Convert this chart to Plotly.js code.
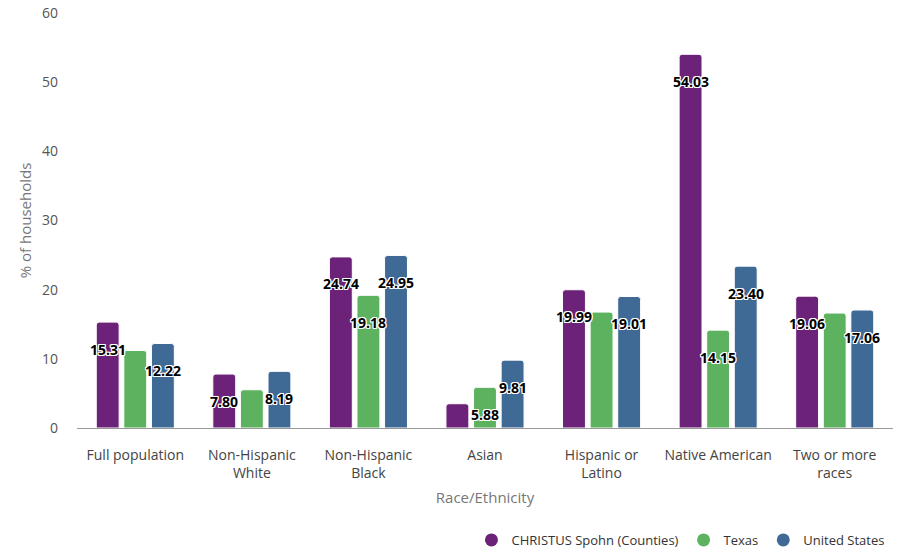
<!DOCTYPE html>
<html>
<head>
<meta charset="utf-8">
<script src="https://cdn.plot.ly/plotly-3.0.1.min.js"></script>
<style>
  html, body { margin: 0; padding: 0; background: #fff; }
  #chart { width: 903px; height: 549px; }
</style>
</head>
<body>
<div id="chart"></div>
<script>
const categories = ["Full population", "Non-Hispanic<br>White", "Non-Hispanic<br>Black", "Asian", "Hispanic or<br>Latino", "Native American", "Two or more<br>races"];
const seriesNames = ["CHRISTUS Spohn (Counties)", "Texas", "United States"];
const christusValues = [15.31, 7.80, 24.74, 3.51, 19.99, 54.03, 19.06];
const texasValues = [11.21, 5.53, 19.18, 5.88, 16.76, 14.15, 16.62];
const usValues = [12.22, 8.19, 24.95, 9.81, 19.01, 23.40, 17.06];
const christusLabelShown = [true, true, true, false, true, true, true];
const texasLabelShown = [false, false, true, true, false, true, false];
const usLabelShown = [true, true, true, true, true, true, true];
const yTickValues = [0, 10, 20, 30, 40, 50, 60];

const colors = ["#6c2278", "#5cb25e", "#406a96"];
const allValues = [christusValues, texasValues, usValues];
const allShown = [christusLabelShown, texasLabelShown, usLabelShown];
const FONT = "Open Sans, Noto Sans, sans-serif";

const traces = [];
allValues.forEach((vals, i) => {
  traces.push({
    type: "bar",
    name: seriesNames[i],
    x: categories,
    y: vals,
    marker: { color: colors[i], cornerradius: 3, line: { color: "#ffffff", width: 1 } },
    showlegend: false,
    hoverinfo: "skip"
  });
});
// legend entries with circle symbols
allValues.forEach((vals, i) => {
  traces.push({
    type: "scatter",
    mode: "markers",
    name: seriesNames[i],
    x: [null],
    y: [null],
    marker: { color: colors[i], size: 13, symbol: "circle" },
    showlegend: true
  });
});

const offsets = [-27.5, 0, 27.5];
const annotations = [];
allValues.forEach((vals, i) => {
  vals.forEach((v, j) => {
    if (!allShown[i][j]) return;
    annotations.push({
      x: categories[j], y: v, xref: "x", yref: "y",
      text: v.toFixed(2), showarrow: false,
      xshift: offsets[i], yshift: -27, yanchor: "middle", xanchor: "center",
      font: { family: FONT, size: 14, color: "#000", weight: 700,
              shadow: "-1px -1px 0 #fff, 1px -1px 0 #fff, -1px 1px 0 #fff, 1px 1px 0 #fff, 0 1px 0 #fff, 0 -1px 0 #fff, 1px 0 0 #fff, -1px 0 0 #fff" }
    });
  });
});

const layout = {
  width: 903, height: 549,
  margin: { l: 77, r: 10, t: 13, b: 121 },
  paper_bgcolor: "#fff", plot_bgcolor: "#fff",
  font: { family: FONT, size: 14, color: "#555" },
  barmode: "group",
  bargap: 0.29,
  bargroupgap: 0.17,
  xaxis: {
    type: "category",
    showline: true, linecolor: "#999", linewidth: 1,
    showgrid: false, zeroline: false, ticks: "",
    ticklabelstandoff: 14,
    tickfont: { family: FONT, size: 14, color: "#444" },
    title: { text: "Race/Ethnicity", font: { family: FONT, size: 15, color: "#777" }, standoff: 11 },
    automargin: false
  },
  yaxis: {
    range: [0, 60],
    tickvals: yTickValues,
    showgrid: false, zeroline: false, showline: false, ticks: "",
    ticklabelstandoff: 18,
    tickfont: { family: FONT, size: 14, color: "#555" },
    title: { text: "% of households", font: { family: FONT, size: 15, color: "#777" }, standoff: 6 },
    automargin: false
  },
  legend: {
    orientation: "h", xref: "container", yref: "container",
    x: 0.985, xanchor: "right", y: 9 / 549, yanchor: "middle",
    font: { family: FONT, size: 13, color: "#333" },
    itemwidth: 20, tracegroupgap: 0
  },
  annotations: annotations,
  showlegend: true
};

Plotly.newPlot("chart", traces, layout, { displayModeBar: false, staticPlot: true });
</script>
</body>
</html>
